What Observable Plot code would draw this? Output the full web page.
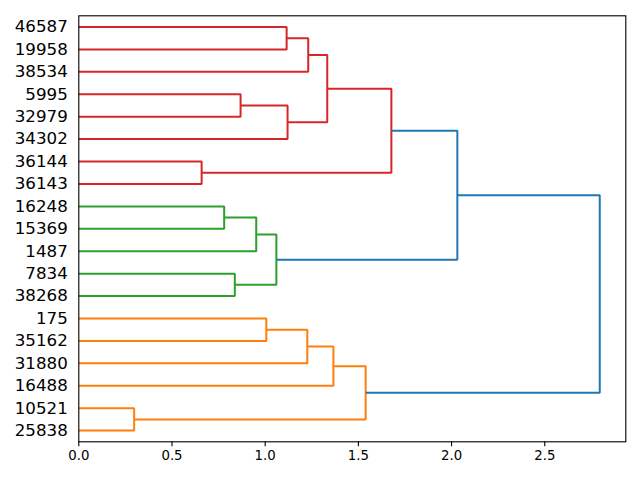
<!DOCTYPE html>
<html>
<head>
<meta charset="utf-8">
<script src="https://cdn.jsdelivr.net/npm/d3@7"></script>
<script src="https://cdn.jsdelivr.net/npm/@observablehq/plot@0.6"></script>
<style>
  html, body { margin: 0; padding: 0; background: #fff; }
</style>
</head>
<body>
<div id="chart"></div>
<script>
// Leaf labels, top to bottom
const leafLabels = ["46587","19958","38534","5995","32979","34302","36144","36143",
  "16248","15369","1487","7834","38268","175","35162","31880","16488","10521","25838"];

// Merges: node id = leafLabels.length + index
const mergeLeft   = [0, 19, 3, 21, 20, 6, 23, 8, 26, 11, 27, 25, 13, 31, 32, 17, 33, 30];
const mergeRight  = [1, 2, 4, 5, 22, 7, 24, 9, 10, 12, 28, 29, 14, 15, 16, 18, 34, 35];
const mergeHeight = [1.115, 1.231, 0.868, 1.120, 1.333, 0.659, 1.677, 0.780, 0.952, 0.837, 1.060, 2.031,
  1.006, 1.226, 1.366, 0.297, 1.539, 2.795];
const mergeColor  = ["red","red","red","red","red","red","red","green","green","green","green","blue",
  "orange","orange","orange","orange","orange","blue"];

const xTicks = [0, 0.5, 1.0, 1.5, 2.0, 2.5];

const palette = {red: "#d62728", green: "#2ca02c", orange: "#ff7f0e", blue: "#1f77b4"};

const n = leafLabels.length;
const nodeY = [], nodeX = [];
leafLabels.forEach((_, i) => { nodeY[i] = 5 + 10 * (n - 1 - i); nodeX[i] = 0; });
const rows = [];
mergeLeft.forEach((a, k) => {
  const b = mergeRight[k], h = mergeHeight[k], id = n + k;
  nodeY[id] = (nodeY[a] + nodeY[b]) / 2;
  nodeX[id] = h;
  const c = palette[mergeColor[k]];
  rows.push({id, x: nodeX[a], y: nodeY[a], c});
  rows.push({id, x: h, y: nodeY[a], c});
  rows.push({id, x: h, y: nodeY[b], c});
  rows.push({id, x: nodeX[b], y: nodeY[b], c});
});

const leafTicks = leafLabels.map((_, i) => nodeY[i]);
const labelAt = new Map(leafLabels.map((l, i) => [nodeY[i], l]));
const xMax = d3.max(mergeHeight) * 1.05;

const chart = Plot.plot({
  width: 640,
  height: 480,
  marginLeft: 78.3,
  marginRight: 14.7,
  marginTop: 15.3,
  marginBottom: 38.7,
  style: {fontFamily: "DejaVu Sans", color: "#000", background: "#fff"},
  x: {domain: [0, xMax]},
  y: {domain: [0, 10 * n]},
  marks: [
    Plot.line(rows, {x: "x", y: "y", z: "id", stroke: "c", strokeWidth: 2, curve: "linear", strokeLinejoin: "miter", strokeLinecap: "butt"}),
    Plot.axisX({ticks: xTicks, tickFormat: d3.format(".1f"), tickSize: 5, tickPadding: 4, fontSize: 13.3, label: null, stroke: "#000", strokeWidth: 1.1}),
    Plot.axisY({ticks: leafTicks, tickFormat: d => labelAt.get(d), tickSize: 0, tickPadding: 11, fontSize: 16.7, label: null}),
    Plot.frame({stroke: "#000", strokeWidth: 1.1})
  ]
});
document.getElementById("chart").appendChild(chart);
</script>
</body>
</html>
